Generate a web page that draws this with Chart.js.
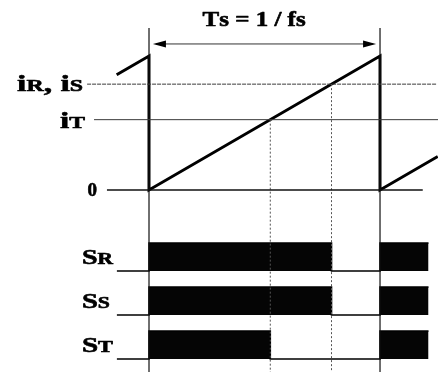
<!DOCTYPE html>
<html>
<head>
<meta charset="utf-8">
<script src="https://cdn.jsdelivr.net/npm/chart.js@4"></script>
<style>
  html, body { margin: 0; padding: 0; background: #fff; }
  #wrap { width: 438px; height: 372px; position: relative; }
</style>
</head>
<body>
<div id="wrap"><canvas id="c"></canvas></div>
<script>
// ---- data (time in carrier periods Ts, value relative to carrier peak) ----
const carrierT = [-0.14, 0, 0, 1, 1, 1.25];
const carrierV = [0.86, 1, 0, 1, 0, 0.25];
const refNames = ['iR, iS', 'iT', '0'];
const refValues = [0.79, 0.525, 0];
const switchNames = ['SR', 'SS', 'ST'];
const switchOnR = [[0, 0.79], [1, 1.21]];
const switchOnS = [[0, 0.79], [1, 1.21]];
const switchOnT = [[0, 0.525], [1, 1.21]];
const periodMarks = [0, 1];
const periodLabel = 'Ts = 1 / fs';

// ---- layout / style ----
const X_MIN = -0.645, X_MAX = 1.251, Y_MIN = -1.358, Y_MAX = 1.418;
const refLineStart = [-0.268, -0.238, -0.182];
const refLineEnd = [1.247, 1.251, 1.185];
const refDash = [[4, 1], [], []];
const rowBase = [-0.604, -0.933, -1.261];
const rowHeight = 0.209;
const rowStart = -0.139;
const vTop = 1.209;
const arrowV = 1.09;
const FONT = '"Liberation Serif", "Times New Roman", serif';
// label styling: [bigSize, smallSize, targetWidth, rightGapPx, baselineOffsetPx]
const refLabelStyle = [[24, 17, 66, 4, 7], [24, 17, 25, 9, 8], [19, 19, 0, 10, 6]];
const swLabelStyle = [[21, 16, 31, 4, -7], [21, 16, 28, 7, -7], [21, 16, 31, 4, -7]];

function pts(xs, ys) { return xs.map((x, i) => ({ x: x, y: ys[i] })); }

function switchPoints(onIntervals, base) {
  const p = [{ x: rowStart, y: base }];
  onIntervals.forEach(([a, b]) => {
    p.push({ x: a, y: base });
    p.push({ x: a, y: base + rowHeight });
    p.push({ x: b, y: base + rowHeight });
    if (b < 1.2) p.push({ x: b, y: base });
  });
  return p;
}

const datasets = [];
refValues.forEach((v, i) => {
  datasets.push({
    data: [{ x: refLineStart[i], y: v }, { x: refLineEnd[i], y: v }],
    borderColor: i === 2 ? '#111' : '#3a3a3a', borderWidth: i === 2 ? 1.3 : 1,
    borderDash: refDash[i]
  });
});
periodMarks.forEach(t => {
  datasets.push({ data: [{ x: t, y: vTop }, { x: t, y: Y_MIN }], borderColor: '#111', borderWidth: 1.2 });
});
[refValues[0], refValues[1]].forEach(v => {
  datasets.push({ data: [{ x: v, y: v }, { x: v, y: Y_MIN }], borderColor: '#555', borderWidth: 1, borderDash: [2, 2] });
});
[switchOnR, switchOnS, switchOnT].forEach((on, i) => {
  datasets.push({
    data: switchPoints(on, rowBase[i]),
    borderColor: '#000', borderWidth: 1.6,
    backgroundColor: '#050505',
    fill: { value: rowBase[i] }
  });
});
datasets.push({ data: [{ x: 0.03, y: arrowV }, { x: 0.97, y: arrowV }], borderColor: '#333', borderWidth: 1 });
datasets.push({ data: pts(carrierT, carrierV), borderColor: '#000', borderWidth: 3, borderJoinStyle: 'miter' });

datasets.forEach(d => { d.showLine = true; d.pointRadius = 0; d.tension = 0; if (d.fill === undefined) d.fill = false; });

function drawRich(ctx, text, x, baseline, big, small, align, targetW) {
  const runs = [];
  for (let k = 0; k < text.length; k++) {
    const c = text[k];
    const isSmall = /[A-Z]/.test(c) && k > 0 && /[A-Za-z]/.test(text[k - 1]);
    runs.push({ c, size: isSmall ? small : big });
  }
  let w = 0;
  runs.forEach(r => { ctx.font = 'bold ' + r.size + 'px ' + FONT; r.w = ctx.measureText(r.c).width; w += r.w; });
  const sx = targetW ? targetW / w : 1;
  const W = w * sx;
  const left = align === 'right' ? x - W : align === 'center' ? x - W / 2 : x;
  ctx.save();
  ctx.translate(left, baseline);
  ctx.scale(sx, 1);
  ctx.fillStyle = '#000';
  ctx.strokeStyle = '#000';
  ctx.lineWidth = 0.6;
  ctx.lineJoin = 'round';
  ctx.textBaseline = 'alphabetic';
  ctx.textAlign = 'left';
  let cx = 0;
  runs.forEach(r => {
    ctx.font = 'bold ' + r.size + 'px ' + FONT;
    ctx.fillText(r.c, cx, 0);
    ctx.strokeText(r.c, cx, 0);
    cx += r.w;
  });
  ctx.restore();
}

const annot = {
  id: 'annot',
  afterDatasetsDraw(chart) {
    const ctx = chart.ctx, xs = chart.scales.x, ys = chart.scales.y;
    ctx.save();
    const ay = ys.getPixelForValue(arrowV);
    const l = xs.getPixelForValue(0.03), r = xs.getPixelForValue(0.97);
    ctx.fillStyle = '#000';
    ctx.beginPath(); ctx.moveTo(l - 3, ay); ctx.lineTo(l + 10, ay - 3.5); ctx.lineTo(l + 10, ay + 3.5); ctx.closePath(); ctx.fill();
    ctx.beginPath(); ctx.moveTo(r + 3, ay); ctx.lineTo(r - 10, ay - 3.5); ctx.lineTo(r - 10, ay + 3.5); ctx.closePath(); ctx.fill();
    drawRich(ctx, periodLabel, xs.getPixelForValue(0.455), 26, 20, 20, 'center', 103);
    refNames.forEach((n, i) => {
      const s = refLabelStyle[i];
      drawRich(ctx, n, xs.getPixelForValue(refLineStart[i]) - s[3], ys.getPixelForValue(refValues[i]) + s[4], s[0], s[1], 'right', s[2]);
    });
    switchNames.forEach((n, i) => {
      const s = swLabelStyle[i];
      drawRich(ctx, n, xs.getPixelForValue(rowStart) - s[3], ys.getPixelForValue(rowBase[i]) + s[4], s[0], s[1], 'right', s[2]);
    });
    ctx.restore();
  }
};

new Chart(document.getElementById('c'), {
  type: 'scatter',
  data: { datasets },
  options: {
    responsive: true, maintainAspectRatio: false, animation: false,
    layout: { padding: 0 },
    plugins: { legend: { display: false }, tooltip: { enabled: false }, title: { display: false } },
    scales: {
      x: { type: 'linear', min: X_MIN, max: X_MAX, display: false },
      y: { type: 'linear', min: Y_MIN, max: Y_MAX, display: false }
    }
  },
  plugins: [annot]
});
</script>
</body>
</html>
